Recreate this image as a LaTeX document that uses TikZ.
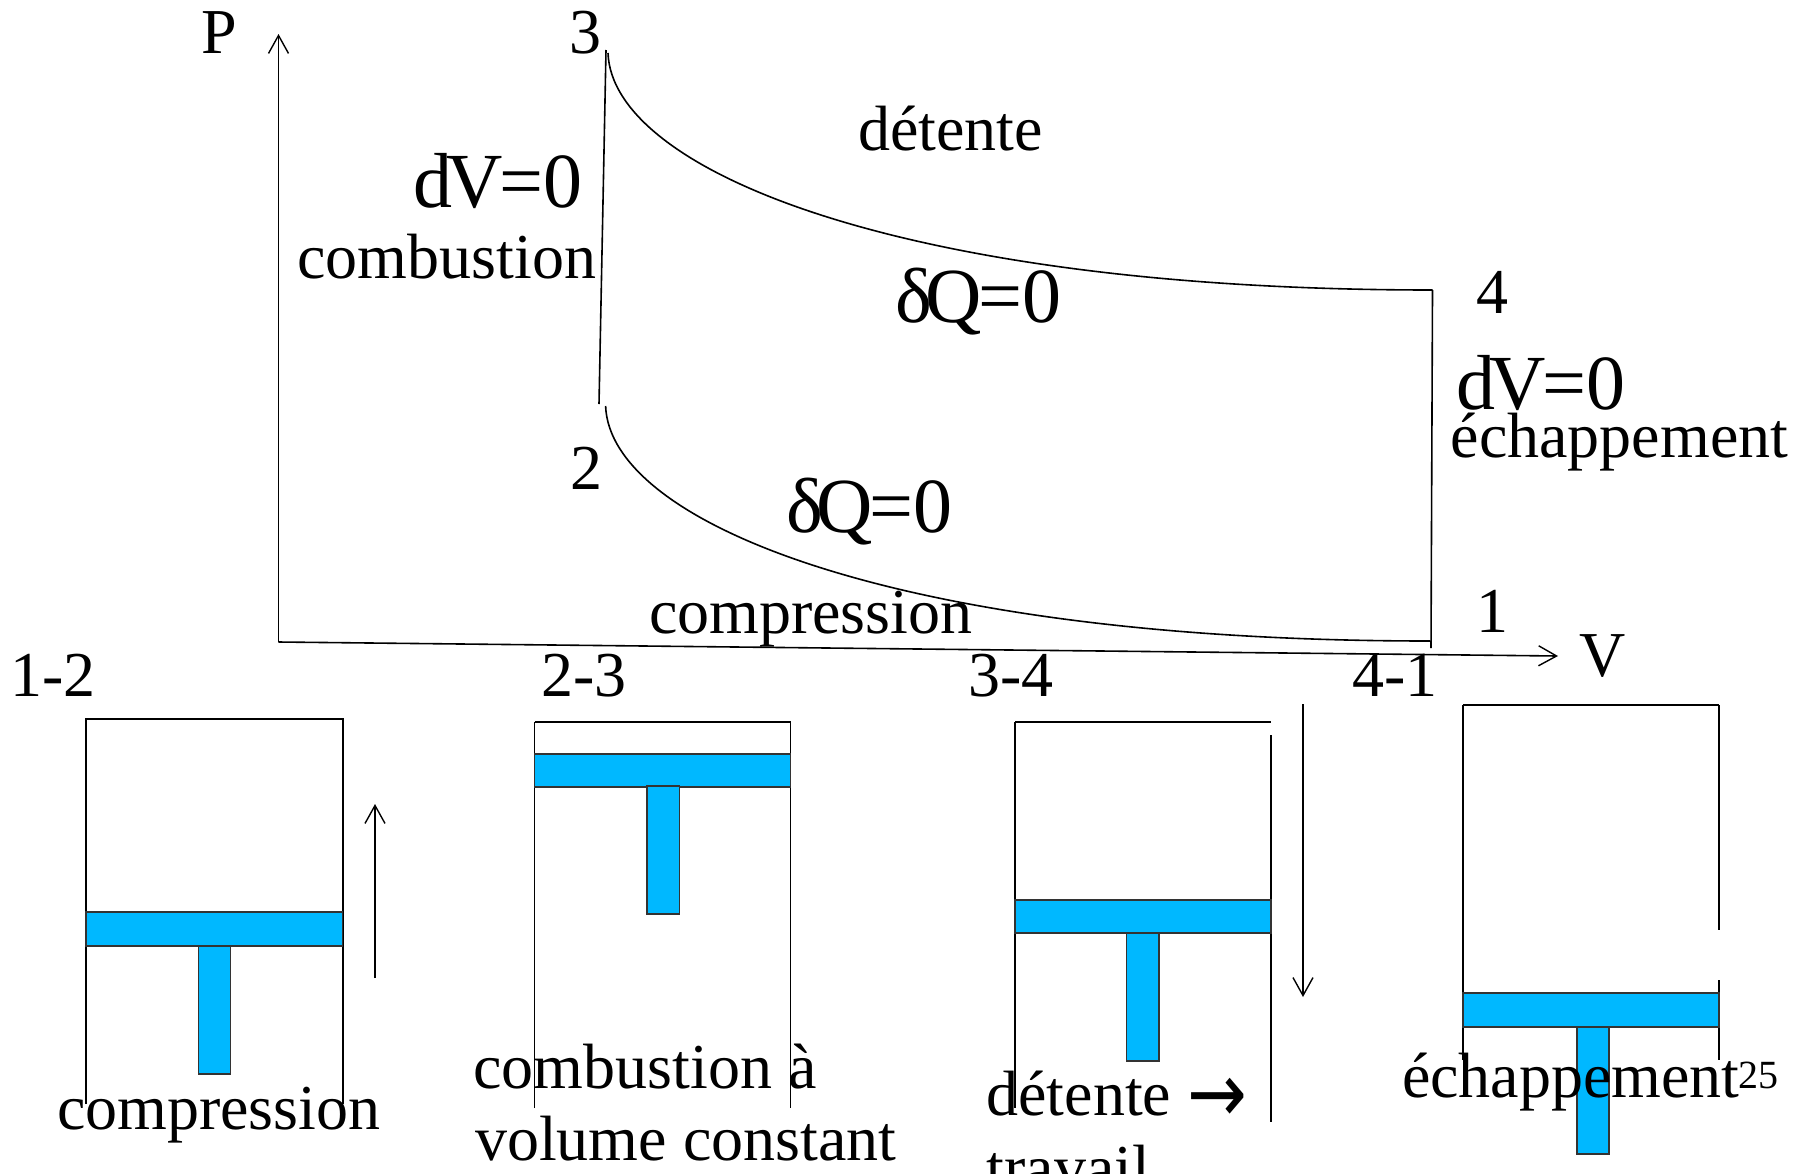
\documentclass[tikz,border=0pt]{standalone}
\usepackage{fontspec}
\usepackage{graphicx}
\usetikzlibrary{arrows.meta}
\setmainfont{Liberation Serif}
\newfontfamily\arrfont{DejaVu Sans}
\definecolor{piston}{HTML}{00B8FF}
\tikzset{
  lab/.style={anchor=base west,inner sep=0pt,outer sep=0pt,font=\fontsize{32}{36}\selectfont},
  big/.style={anchor=base west,inner sep=0pt,outer sep=0pt,font=\fontsize{39}{44}\selectfont},
  small/.style={anchor=base west,inner sep=0pt,outer sep=0pt,font=\fontsize{20}{22}\selectfont},
  wall/.style={draw=black,line width=.9pt},
  lid/.style={draw=black,line width=1.3pt},
  thin curve/.style={draw=black,line width=.8pt},
  axis/.style={draw=black,line width=.8pt,-{Straight Barb[length=9pt,width=10pt,line width=.7pt]}},
  pist/.style={draw=black!80,fill=piston,line width=.6pt},
}
\newcommand{\dvz}{d\kern-3pt V\kern-1.5pt =0}
\newcommand{\dqz}{δ\kern-3pt Q\kern-2pt =0}
\begin{document}
\begin{tikzpicture}[x=.5pt,y=-.5pt]
\useasboundingbox (0,0) rectangle (1804,1173);
% coordinates
\coordinate (O) at (278.5,642);
\coordinate (Ptop) at (278.5,34);
\coordinate (Vend) at (1558,656);
\coordinate (s3) at (606,50);
\coordinate (s2) at (599,404);
\coordinate (c3) at (608,53);
\coordinate (s4) at (1432.5,290);
\coordinate (s1) at (1431,648);
\coordinate (c2) at (605.6,406);
\coordinate (c1) at (1430,641);
% diagram
\draw[axis] (O) -- (Ptop);
\draw[axis] (O) -- (Vend);
\draw[thin curve] (s3) -- (s2);
\draw[thin curve] (c3) .. controls (612,170) and (900,290) .. (s4);
\draw[thin curve] (s4) -- (s1);
\draw[thin curve] (c2) .. controls (610,523) and (897,641) .. (c1);
% box 1
\coordinate (a1) at (86,1104); \coordinate (a2) at (86,719); \coordinate (a3) at (342.7,719); \coordinate (a4) at (342.7,1104);
\draw[wall] (a1) -- (a2) -- (a3) -- (a4);
\fill[pist] (86,912) rectangle (342.7,946);
\fill[pist] (198.6,946) rectangle (230.8,1074);
% box 2
\coordinate (b1) at (534.5,1108); \coordinate (b2) at (534.5,722); \coordinate (b3) at (790.5,722); \coordinate (b4) at (790.5,1108);
\draw[wall] (b1) -- (b2);
\draw[wall] (b3) -- (b4);
\draw[lid] (b2) -- (b3);
\fill[pist] (534.5,754) rectangle (790.5,787);
\fill[pist] (647,786) rectangle (679.7,914);
% box 3
\coordinate (d1) at (1015,1108); \coordinate (d2) at (1015,722); \coordinate (d3) at (1271,722); \coordinate (d4) at (1271,735); \coordinate (d5) at (1271,1122);
\draw[wall] (d1) -- (d2);
\draw[lid] (d2) -- (d3);
\draw[wall] (d4) -- (d5);
\fill[pist] (1015,900) rectangle (1271,933);
\fill[pist] (1126.5,933) rectangle (1159,1061);
% box 4
\coordinate (e1) at (1463,1060); \coordinate (e2) at (1463,705); \coordinate (e3) at (1719,705); \coordinate (e4) at (1719,930); \coordinate (e5) at (1719,980); \coordinate (e6) at (1719,1060);
\draw[wall] (e1) -- (e2);
\draw[lid] (e2) -- (e3);
\draw[wall] (e3) -- (e4);
\draw[wall] (e5) -- (e6);
\fill[pist] (1463,993) rectangle (1719,1027);
\fill[pist] (1577,1027) rectangle (1609,1154);
% arrows
\coordinate (u1) at (375,978); \coordinate (u2) at (375,804);
\draw[axis] (u1) -- (u2);
\coordinate (w1) at (1303,704); \coordinate (w2) at (1303,997);
\draw[axis] (w1) -- (w2);
% labels
\node[lab] (tP) at (201,53) {P};
\node[lab] (t3) at (569.5,53) {3};
\node[big] (tdv1) at (413.5,207) {\dvz};
\node[lab] (tcomb) at (297.5,278) {combustion};
\node[lab] (tdet) at (858,150.5) {détente};
\node[big] (tdq1) at (895,322.5) {\dqz};
\node[lab] (t4) at (1476.5,313) {4};
\node[big] (tdv2) at (1456.5,409.5) {\dvz};
\node[lab] (tech) at (1450.7,457) {échappement};
\node[lab] (t2) at (570,489) {2};
\node[big] (tdq2) at (786,532) {\dqz};
\node[lab] (tcompr) at (649,633) {compression};
\node[lab] (t1) at (1476,632) {1};
\node[lab] (tV) at (1579,676.5) {V};
\node[lab] (l12) at (10.6,696) {1-2};
\node[lab] (l23) at (541.5,696) {2-3};
\node[lab] (l34) at (968,696) {3-4};
\node[lab] (l41) at (1352.5,696) {4-1};
\node[lab] (b1t) at (57,1129.5) {compression};
\node[lab] (b2t) at (473.5,1088) {combustion à};
\node[lab] (b2u) at (475,1160.5) {volume constant};
\node[lab] (b3t) at (986.5,1115.5) {détente {\arrfont\raisebox{-3.5pt}{\scalebox{.85}[1]{\fontsize{42}{42}\selectfont →}}}};
\node[lab] (b3u) at (986.5,1189) {travail};
\node[lab] (b4t) at (1402,1097) {échappement};
\node[small] (pg) at (1738.6,1088) {25};
\end{tikzpicture}
\end{document}
